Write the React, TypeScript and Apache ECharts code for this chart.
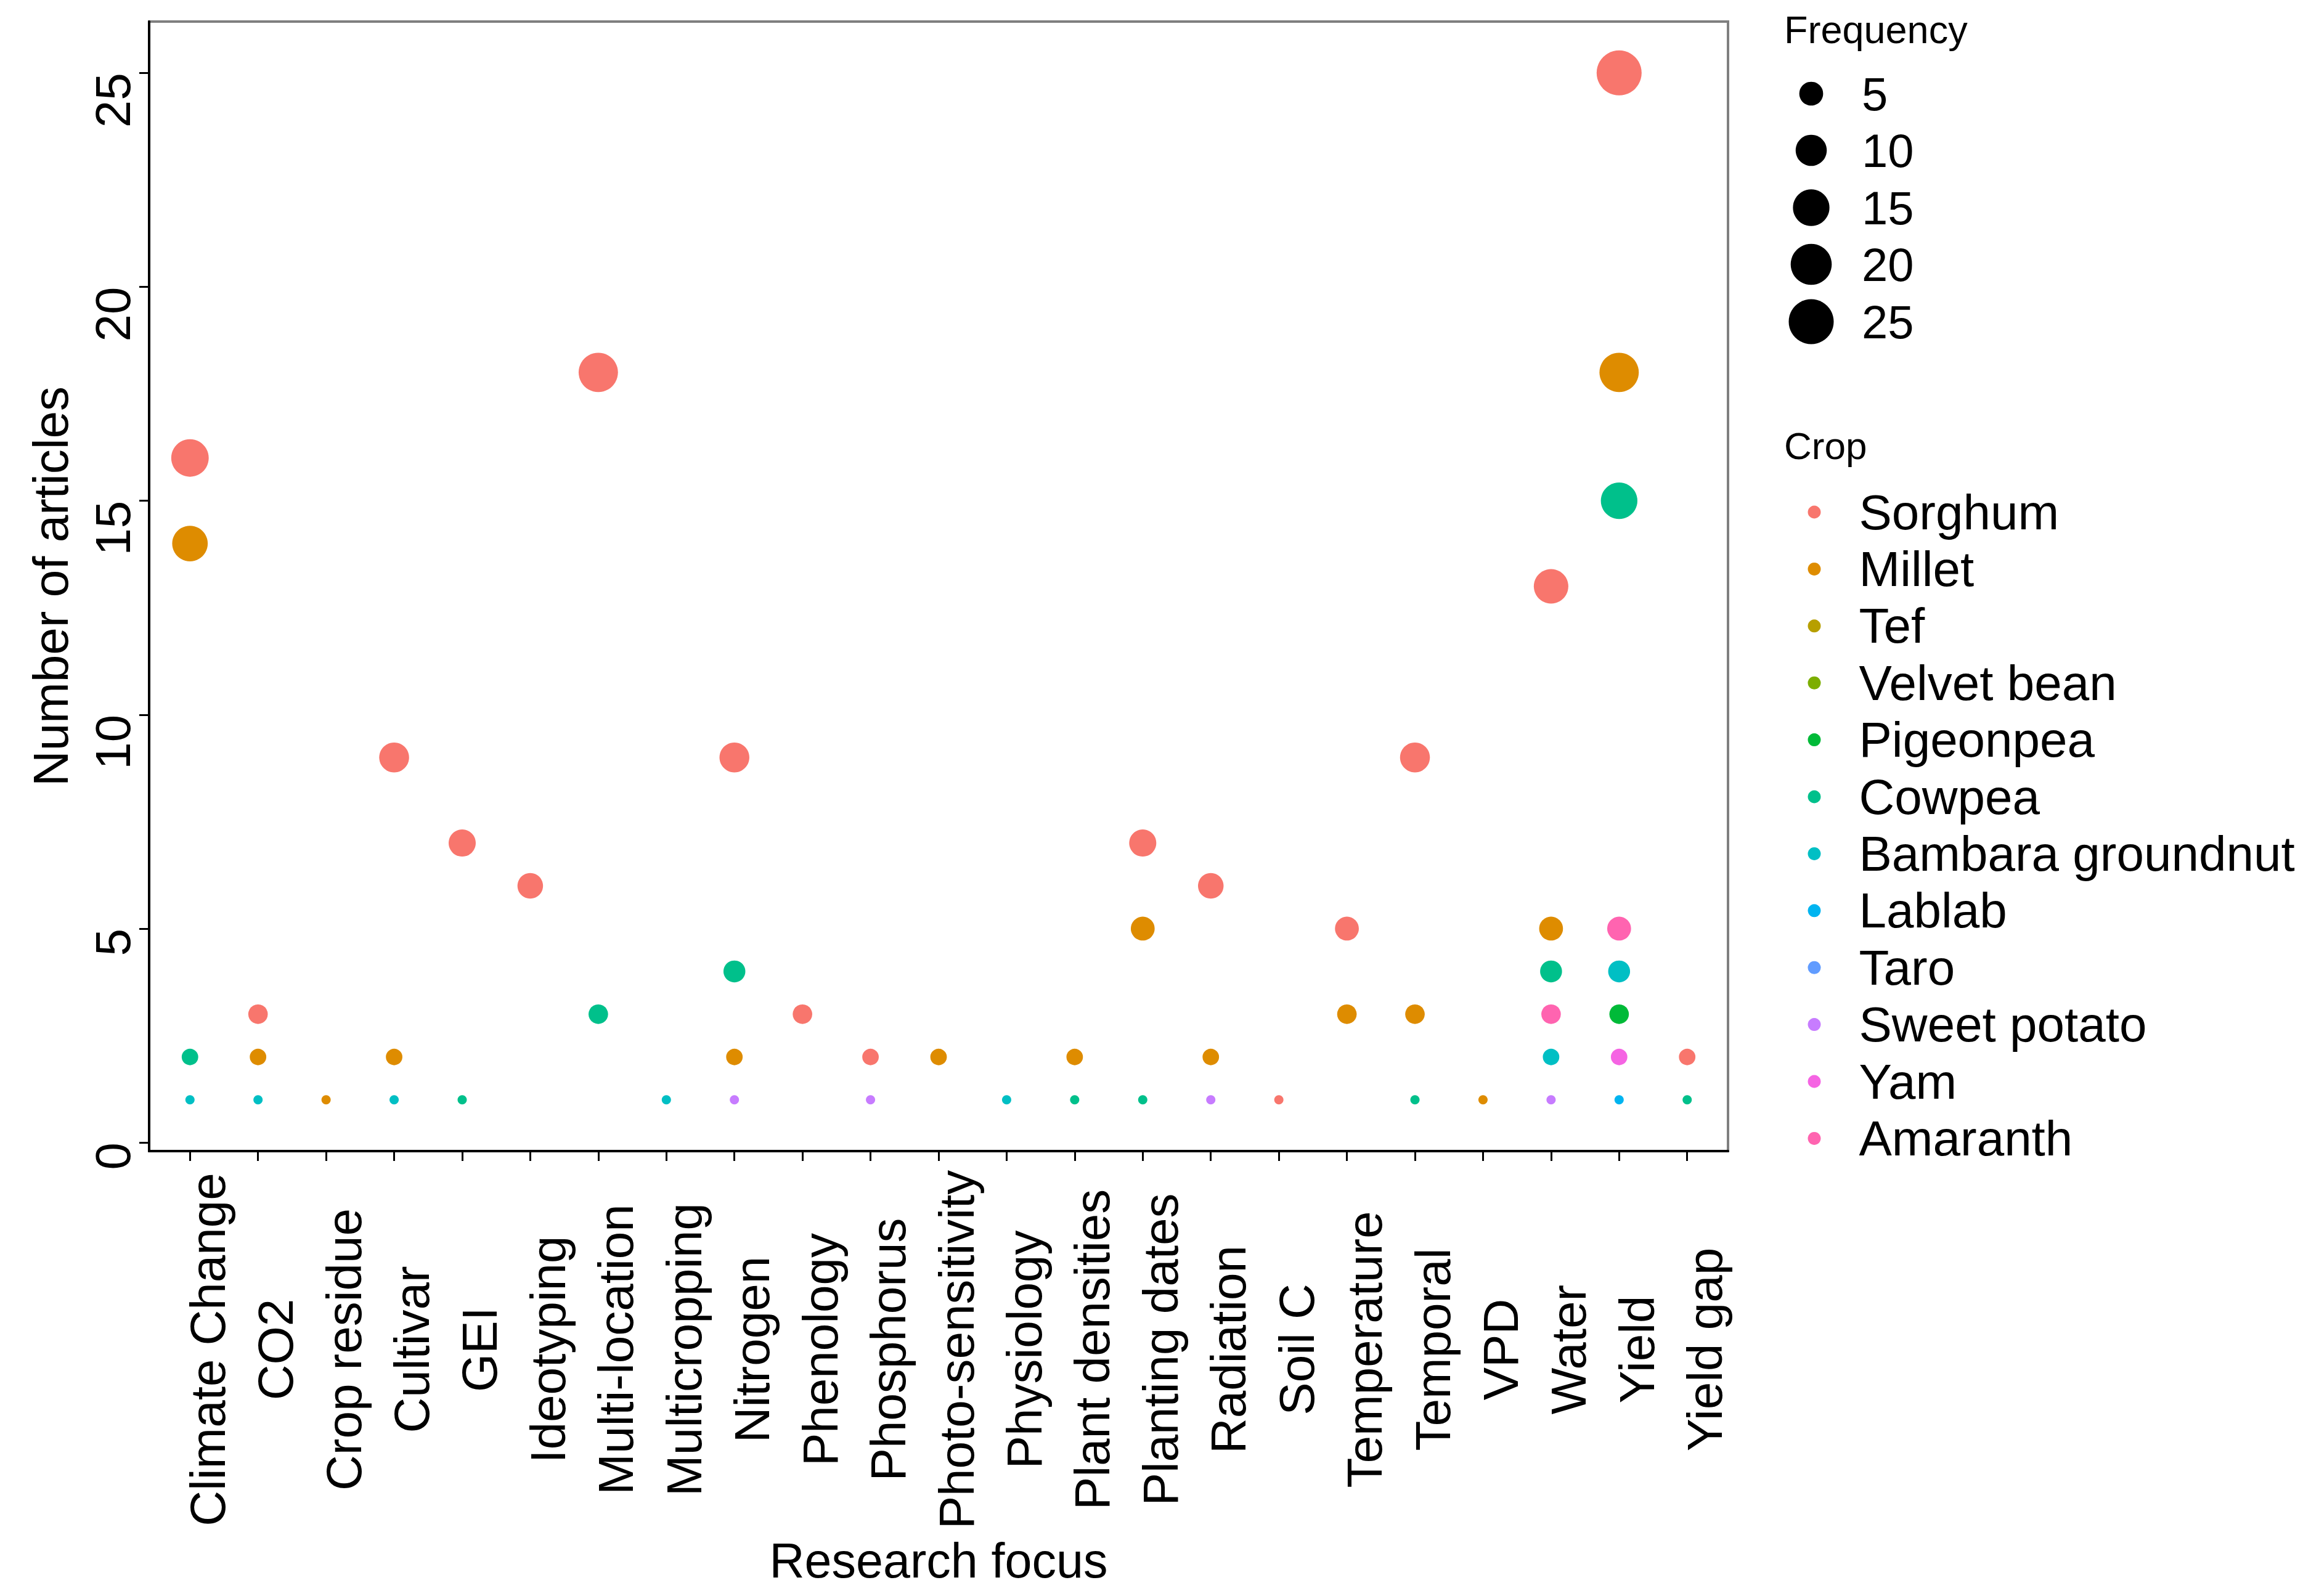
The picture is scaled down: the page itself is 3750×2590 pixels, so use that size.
import React, { useEffect, useRef } from "react";
import * as echarts from "echarts";

const categories = [
  "Climate Change", "CO2", "Crop residue", "Cultivar", "GEI", "Ideotyping",
  "Multi-location", "Multicropping", "Nitrogen", "Phenology", "Phosphorus",
  "Photo-sensitivity", "Physiology", "Plant densities", "Planting dates",
  "Radiation", "Soil C", "Temperature", "Temporal", "VPD", "Water", "Yield", "Yield gap",
];

const crops = [
  "Sorghum", "Millet", "Tef", "Velvet bean", "Pigeonpea", "Cowpea",
  "Bambara groundnut", "Lablab", "Taro", "Sweet potato", "Yam", "Amaranth",
];

const cropColors = [
  "#F8766D", "#DE8C00", "#B79F00", "#7CAE00", "#00BA38", "#00C08B",
  "#00BFC4", "#00B4F0", "#619CFF", "#C77CFF", "#F564E3", "#FF64B0",
];

const sorghum: [string, number][] = [
  ["Climate Change", 16], ["CO2", 3], ["Cultivar", 9], ["GEI", 7], ["Ideotyping", 6],
  ["Multi-location", 18], ["Nitrogen", 9], ["Phenology", 3], ["Phosphorus", 2],
  ["Planting dates", 7], ["Radiation", 6], ["Soil C", 1], ["Temperature", 5],
  ["Temporal", 9], ["Water", 13], ["Yield", 25], ["Yield gap", 2],
];
const millet: [string, number][] = [
  ["Climate Change", 14], ["CO2", 2], ["Crop residue", 1], ["Cultivar", 2], ["Nitrogen", 2],
  ["Photo-sensitivity", 2], ["Plant densities", 2], ["Planting dates", 5], ["Radiation", 2],
  ["Temperature", 3], ["Temporal", 3], ["VPD", 1], ["Water", 5], ["Yield", 18],
];
const tef: [string, number][] = [];
const velvetBean: [string, number][] = [];
const pigeonpea: [string, number][] = [["Yield", 3]];
const cowpea: [string, number][] = [
  ["Climate Change", 2], ["GEI", 1], ["Multi-location", 3], ["Nitrogen", 4],
  ["Plant densities", 1], ["Planting dates", 1], ["Temporal", 1], ["Water", 4],
  ["Yield", 15], ["Yield gap", 1],
];
const bambara: [string, number][] = [
  ["Climate Change", 1], ["CO2", 1], ["Cultivar", 1], ["Multicropping", 1],
  ["Physiology", 1], ["Water", 2], ["Yield", 4],
];
const lablab: [string, number][] = [["Yield", 1]];
const taro: [string, number][] = [];
const sweetPotato: [string, number][] = [
  ["Nitrogen", 1], ["Phosphorus", 1], ["Radiation", 1], ["Water", 1],
];
const yam: [string, number][] = [["Yield", 2]];
const amaranth: [string, number][] = [["Water", 3], ["Yield", 5]];

const cropData = [
  sorghum, millet, tef, velvetBean, pigeonpea, cowpea,
  bambara, lablab, taro, sweetPotato, yam, amaranth,
];

const yTicks = [0, 5, 10, 15, 20, 25];
const freqBreaks = [5, 10, 15, 20, 25];

const FONT = "Liberation Sans, Arial, Helvetica, sans-serif";

// size mapping (area scale like ggplot scale_size, range 1..6)
const V_MIN = 1;
const V_MAX = 25;
function dotSize(v: number) {
  const s = 1 + 5 * Math.sqrt(Math.max(0, (v - V_MIN) / (V_MAX - V_MIN)));
  return 3.4 + 11.6 * s;
}

export default function App() {
  const ref = useRef<HTMLDivElement>(null);
  useEffect(() => {
    if (!ref.current) return;
    const chart = echarts.init(ref.current, undefined, { renderer: "svg" });

    const gridLeft = 242;
    const gridTop = 35;
    const gridRight = 3750 - 2804;
    const gridBottom = 2590 - 1868;

    const series = crops.map((name, i) => ({
      name,
      type: "scatter",
      data: cropData[i].map(([cat, v]) => [categories.indexOf(cat), v]),
      symbol: "circle",
      symbolSize: (val: number[]) => dotSize(val[1]),
      itemStyle: { color: cropColors[i], opacity: 1 },
      emphasis: { disabled: true },
    }));

    const freqYs = [152, 244, 337, 429, 522];
    const graphics: any[] = [
      {
        type: "text",
        left: 2895,
        top: 16,
        style: { text: "Frequency", fontSize: 63, fontFamily: FONT, fill: "#000" },
      },
      {
        type: "text",
        left: 2895,
        top: 692,
        style: { text: "Crop", fontSize: 62, fontFamily: FONT, fill: "#000" },
      },
    ];
    freqBreaks.forEach((b, i) => {
      graphics.push({
        type: "circle",
        shape: { cx: 2939, cy: freqYs[i], r: dotSize(b) / 2 },
        style: { fill: "#000" },
      });
      graphics.push({
        type: "text",
        x: 3021,
        y: freqYs[i],
        style: {
          text: String(b),
          fontSize: 76,
          fontFamily: FONT,
          fill: "#000",
          verticalAlign: "middle",
          align: "left",
        },
      });
    });

    chart.setOption({
      animation: false,
      backgroundColor: "#fff",
      grid: {
        left: gridLeft,
        top: gridTop,
        right: gridRight,
        bottom: gridBottom,
        show: true,
        borderColor: "#7f7f7f",
        borderWidth: 4,
        backgroundColor: "transparent",
        containLabel: false,
        outerBoundsMode: "none",
      },
      xAxis: {
        type: "value",
        min: -0.6,
        max: 22.6,
        name: "Research focus",
        nameLocation: "middle",
        nameGap: 625,
        nameTextStyle: { fontSize: 79, fontFamily: FONT, color: "#000" },
        axisLine: { show: true, onZero: false, lineStyle: { color: "#000", width: 4 } },
        axisTick: {
          show: true,
          length: 16,
          lineStyle: { color: "#000", width: 3 },
          customValues: categories.map((_, i) => i),
        },
        axisLabel: {
          customValues: categories.map((_, i) => i),
          formatter: (v: number) => categories[Math.round(v)] ?? "",
          rotate: 90,
          align: "center",
          verticalAlign: "top",
          margin: 322,
          fontSize: 80,
          lineHeight: 58,
          fontFamily: FONT,
          color: "#000",
          hideOverlap: false,
        },
        splitLine: { show: false },
      },
      yAxis: {
        type: "value",
        min: -0.2,
        max: 26.2,
        name: "Number of articles",
        nameLocation: "middle",
        nameGap: 120,
        nameRotate: 90,
        nameTextStyle: { fontSize: 80, fontFamily: FONT, color: "#000" },
        axisLine: { show: true, onZero: false, lineStyle: { color: "#000", width: 4 } },
        axisTick: {
          show: true,
          length: 16,
          lineStyle: { color: "#000", width: 3 },
          customValues: yTicks,
        },
        axisLabel: {
          customValues: yTicks,
          rotate: 90,
          align: "right",
          verticalAlign: "bottom",
          margin: 19,
          fontSize: 80,
          lineHeight: 80,
          fontFamily: FONT,
          color: "#000",
        },
        splitLine: { show: false },
      },
      legend: {
        data: crops,
        orient: "vertical",
        left: 2939 - 10.5,
        top: 826 - 46.2,
        itemWidth: 21,
        itemHeight: 21,
        itemGap: 0,
        icon: "circle",
        selectedMode: false,
        textStyle: {
          fontSize: 80,
          lineHeight: 92.4,
          fontFamily: FONT,
          color: "#000",
          padding: [0, 0, 0, 57],
        },
      },
      graphic: graphics,
      series,
    });

    return () => chart.dispose();
  }, []);

  return (
    <div
      ref={ref}
      style={{ position: "fixed", left: 0, top: 0, width: "3750px", height: "2590px" }}
    />
  );
}
